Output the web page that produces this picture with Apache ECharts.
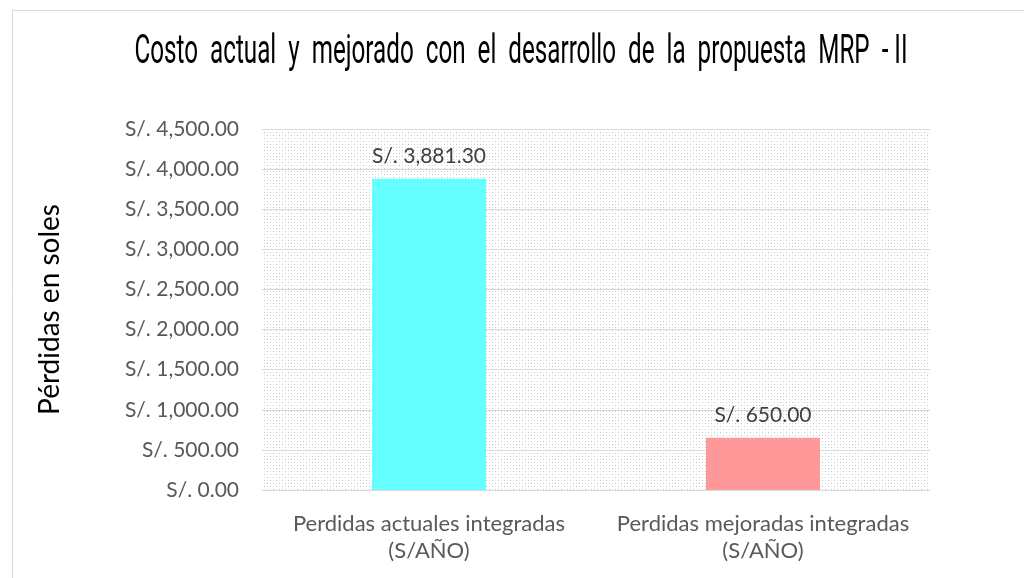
<!DOCTYPE html>
<html>
<head>
<meta charset="utf-8">
<script src="https://cdn.jsdelivr.net/npm/echarts@6/dist/echarts.min.js"></script>
<style>
  html, body { margin: 0; padding: 0; background: #fff; }
  #chart { width: 1024px; height: 578px; }
</style>
</head>
<body>
<div id="chart"></div>
<script>
// datos
var categorias = ['Perdidas actuales integradas\n(S/AÑO)', 'Perdidas mejoradas integradas\n(S/AÑO)'];
var valores = [3881.30, 650.00];
var colores = ['#66ffff', '#ff9999'];
var titulo = 'Costo  actual  y  mejorado  con  el  desarrollo  de  la  propuesta  MRP  - II';

function soles(v) {
    return 'S/. ' + v.toLocaleString('en-US', { minimumFractionDigits: 2, maximumFractionDigits: 2 });
}

// patron de puntos para el fondo del area de trazado
function patronPuntos() {
    var c = document.createElement('canvas');
    c.width = 6;
    c.height = 6;
    var ctx = c.getContext('2d');
    ctx.fillStyle = '#fff';
    ctx.fillRect(0, 0, 6, 6);
    ctx.fillStyle = '#c4c4c4';
    ctx.fillRect(0, 0, 1, 1);
    ctx.fillRect(3, 3, 1, 1);
    ctx.fillStyle = '#e2e2e2';
    ctx.fillRect(3, 0, 1, 1);
    ctx.fillRect(0, 3, 1, 1);
    return c;
}

// escala horizontal del titulo (fuente condensada)
var fuenteTitulo = '40px Roboto';
var anchoObjetivo = 773;
var medida = document.createElement('canvas').getContext('2d');
medida.font = fuenteTitulo;
var escalaX = anchoObjetivo / medida.measureText(titulo).width;

var ec = echarts.init(document.getElementById('chart'));

ec.setOption({
    animation: false,
    backgroundColor: '#fff',
    graphic: [
        {
            type: 'rect',
            left: 10,
            top: 8,
            shape: { width: 1100, height: 700 },
            style: { fill: 'none', stroke: '#d9d9d9', lineWidth: 1 },
            silent: true
        },
        {
            type: 'text',
            x: 521,
            y: 53,
            scaleX: escalaX,
            style: {
                text: titulo,
                font: fuenteTitulo,
                fill: '#000',
                align: 'center',
                verticalAlign: 'middle'
            }
        }
    ],
    grid: {
        left: 262,
        right: 94,
        top: 129,
        bottom: 88,
        show: true,
        borderWidth: 0,
        backgroundColor: { image: patronPuntos(), repeat: 'repeat' }
    },
    xAxis: {
        type: 'category',
        data: categorias,
        axisLine: { lineStyle: { color: '#d9d9d9' } },
        axisTick: { show: false },
        axisLabel: {
            interval: 0,
            hideOverlap: false,
            color: '#595959',
            fontFamily: 'Lato',
            fontSize: 22,
            lineHeight: 27,
            margin: 20
        }
    },
    yAxis: {
        type: 'value',
        min: 0,
        max: 4500,
        interval: 500,
        name: 'Pérdidas en soles',
        nameLocation: 'middle',
        nameGap: 198,
        nameTextStyle: {
            color: '#000',
            fontFamily: 'Lato',
            fontSize: 28
        },
        axisLine: { show: false },
        axisTick: { show: false },
        splitLine: { lineStyle: { color: '#d9d9d9', width: 1 } },
        axisLabel: {
            color: '#595959',
            fontFamily: 'Lato',
            fontSize: 21,
            margin: 23,
            formatter: soles
        }
    },
    series: [
        {
            type: 'bar',
            barWidth: 114,
            data: valores.map(function(v, i) {
                return { value: v, itemStyle: { color: colores[i] } };
            }),
            label: {
                show: true,
                position: 'top',
                distance: 12,
                color: '#404040',
                fontFamily: 'Lato',
                fontSize: 21,
                formatter: function(p) { return soles(p.value); }
            }
        }
    ]
});
</script>
</body>
</html>
